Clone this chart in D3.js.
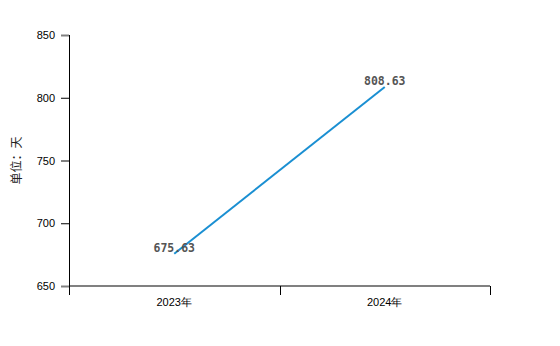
<!DOCTYPE html>
<html>
<head>
<meta charset="utf-8">
<script src="https://cdn.jsdelivr.net/npm/d3@7"></script>
<style>
  body { margin: 0; background: #fff; }
</style>
</head>
<body>
<div id="chart-container"></div>
<script>
// chart data
const years = ["2023年", "2024年"];
const days = [675.63, 808.63];
const yTicks = [650, 700, 750, 800, 850];
const yTitle = "单位：天";

const width = 560;
const height = 346;
const margin = { top: 35, right: 70, bottom: 60, left: 69 };
const innerW = width - margin.left - margin.right;
const innerH = height - margin.top - margin.bottom;

const svg = d3
  .select("#chart-container")
  .append("svg")
  .attr("width", width)
  .attr("height", height)
  .style("font-family", "'Liberation Sans', Arial, sans-serif");

const g = svg.append("g").attr("transform", `translate(${margin.left},${margin.top})`);

// scales
const xScale = d3.scaleBand().domain(years).range([0, innerW]).padding(0);
const yScale = d3.scaleLinear().domain([650, 850]).range([innerH, 0]);

// x axis: grey baseline, black boundary ticks
g.append("line")
  .attr("x1", 0)
  .attr("x2", innerW)
  .attr("y1", innerH)
  .attr("y2", innerH)
  .attr("stroke", "#808080")
  .attr("stroke-width", 2);

const bounds = years.map((d) => xScale(d)).concat([innerW]);
g.selectAll(".x-bound")
  .data(bounds)
  .enter()
  .append("line")
  .attr("class", "x-bound")
  .attr("x1", (d) => Math.round(d) + 0.5)
  .attr("x2", (d) => Math.round(d) + 0.5)
  .attr("y1", innerH)
  .attr("y2", innerH + 9)
  .attr("stroke", "#000");

g.selectAll(".x-label")
  .data(years)
  .enter()
  .append("text")
  .attr("class", "x-label")
  .attr("x", (d) => xScale(d) + xScale.bandwidth() / 2)
  .attr("y", innerH + 20)
  .attr("text-anchor", "middle")
  .attr("font-size", 11)
  .attr("fill", "#000")
  .text((d) => d);

// y axis
const yAxis = g
  .append("g")
  .attr("class", "y-axis")
  .call(d3.axisLeft(yScale).tickValues(yTicks).tickSize(8).tickPadding(6).tickSizeOuter(0));
yAxis.select(".domain").remove();
yAxis.selectAll(".tick line")
  .attr("stroke", (d, i) => (i % 2 === 0 ? "#808080" : "#000"))
  .attr("stroke-width", (d, i) => (i % 2 === 0 ? 2 : 1));
yAxis.selectAll(".tick text")
  .attr("font-size", 11)
  .style("font-family", "'Liberation Sans', Arial, sans-serif")
  .attr("fill", "#000");

g.append("line")
  .attr("x1", 0.5)
  .attr("x2", 0.5)
  .attr("y1", 0)
  .attr("y2", innerH + 9)
  .attr("stroke", "#000");

svg.append("text")
  .attr("transform", `translate(21,${margin.top + innerH / 2}) rotate(-90)`)
  .attr("text-anchor", "middle")
  .attr("font-size", 12)
  .style("font-family", "'Noto Sans CJK SC', sans-serif")
  .attr("fill", "#222")
  .text(yTitle);

// line
const points = years.map((d, i) => ({ year: d, value: days[i] }));
const line = d3
  .line()
  .x((d) => xScale(d.year) + xScale.bandwidth() / 2)
  .y((d) => yScale(d.value));

g.append("path")
  .datum(points)
  .attr("fill", "none")
  .attr("stroke", "#1a8fd2")
  .attr("stroke-width", 2)
  .attr("d", line);

// value labels
g.selectAll(".value-label")
  .data(points)
  .enter()
  .append("text")
  .attr("class", "value-label")
  .attr("x", (d) => xScale(d.year) + xScale.bandwidth() / 2)
  .attr("y", (d) => yScale(d.value) - 2)
  .attr("text-anchor", "middle")
  .attr("font-size", 11.5)
  .attr("font-weight", "bold")
  .style("font-family", "'DejaVu Sans Mono', monospace")
  .attr("fill", "#555")
  .text((d) => d.value.toFixed(2));
</script>
</body>
</html>
